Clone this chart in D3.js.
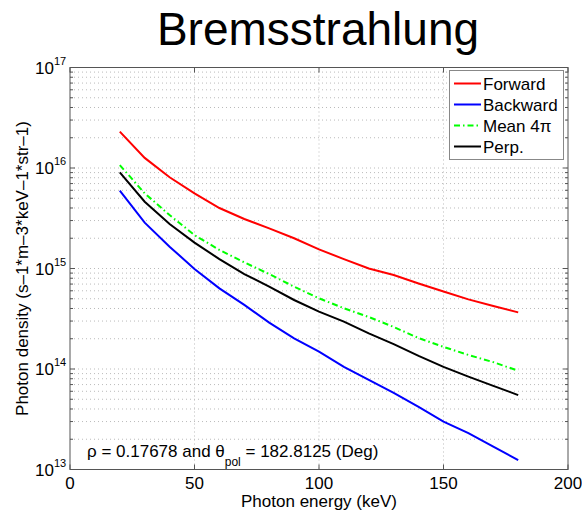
<!DOCTYPE html>
<style>
body { margin: 0; background: #fff; }
svg { font-family: "Liberation Sans", Arial, Helvetica, sans-serif; }
.grid line { stroke: #bbb; stroke-dasharray: 1,3; stroke-width: 1; }
</style>
<svg width="582" height="511"></svg>
<script src="https://d3js.org/d3.v7.min.js"></script>
<script>

// photon energies (keV), one sample every 10 keV
var energy = [20, 30, 40, 50, 60, 70, 80, 90, 100, 110, 120, 130, 140, 150, 160, 170, 180];

// photon density
var forward  = [2.30e16, 1.26e16, 8.08e15, 5.60e15, 4.00e15, 3.11e15, 2.51e15, 2.00e15, 1.55e15,
                1.24e15, 1.00e15, 8.6e14, 7.1e14, 5.9e14, 4.93e14, 4.24e14, 3.66e14];
var backward = [5.94e15, 2.86e15, 1.65e15, 9.9e14, 6.35e14, 4.34e14, 2.89e14, 2.02e14, 1.49e14,
                1.05e14, 7.8e13, 5.8e13, 4.2e13, 3.0e13, 2.3e13, 1.69e13, 1.24e13];
var mean4pi  = [1.07e16, 5.60e15, 3.40e15, 2.15e15, 1.53e15, 1.15e15, 8.8e14, 6.6e14, 5.05e14,
                4.02e14, 3.29e14, 2.62e14, 2.03e14, 1.66e14, 1.38e14, 1.17e14, 9.6e13];
var perp     = [9.06e15, 4.62e15, 2.77e15, 1.81e15, 1.24e15, 8.8e14, 6.6e14, 4.86e14, 3.72e14,
                2.96e14, 2.26e14, 1.77e14, 1.35e14, 1.05e14, 8.4e13, 6.8e13, 5.5e13];

var seriesNames = ["Forward", "Backward", "Mean 4\u03c0", "Perp."];
var xTicks = [0, 50, 100, 150, 200];
var yExponents = [13, 14, 15, 16, 17];

// note: "top" is taken by window.top, so use px* names
var svg = d3.select("svg"),
    pxL = 70, pxR = 568, pxT = 67.5, pxB = 469.5;

var x = d3.scaleLinear().domain([0, 200]).range([pxL, pxR]);
var y = d3.scaleLog().domain([1e13, 1e17]).range([pxB, pxT]);

// title
svg.append("text")
    .attr("x", 318).attr("y", 45)
    .attr("text-anchor", "middle")
    .attr("font-size", 46)
    .text("Bremsstrahlung");

// grid: x majors, y majors + minors
var allY = y.ticks();
var grid = svg.append("g").attr("class", "grid");
grid.selectAll(".gx").data(xTicks.slice(1, -1)).enter().append("line")
    .attr("x1", x).attr("x2", x).attr("y1", pxT).attr("y2", pxB);
grid.selectAll(".gy").data(allY.filter(function(d) { return d > 1e13 && d < 1e17; })).enter().append("line")
    .attr("x1", pxL).attr("x2", pxR)
    .attr("y1", function(d) { return y(d); }).attr("y2", function(d) { return y(d); });

// curves
var line = d3.line()
    .x(function(d, i) { return x(energy[i]); })
    .y(function(d) { return y(d); });

var styles = [
  {data: forward, color: "#ff0000", dash: null},
  {data: backward, color: "#0000ff", dash: null},
  {data: mean4pi, color: "#00ff00", dash: "6,3,1.5,3"},
  {data: perp, color: "#000000", dash: null}
];

svg.append("g").selectAll("path").data(styles).enter().append("path")
    .attr("d", function(d) { return line(d.data); })
    .attr("fill", "none")
    .attr("stroke", function(d) { return d.color; })
    .attr("stroke-width", 2)
    .attr("stroke-dasharray", function(d) { return d.dash; });

// frame and ticks
var axisColor = "#555";
svg.append("rect")
    .attr("x", pxL).attr("y", pxT)
    .attr("width", pxR - pxL).attr("height", pxB - pxT)
    .attr("fill", "none").attr("stroke", axisColor).attr("stroke-width", 1);

var ticks = svg.append("g").attr("stroke", axisColor).attr("stroke-width", 1);
xTicks.forEach(function(t) {
  ticks.append("line").attr("x1", x(t)).attr("x2", x(t)).attr("y1", pxB).attr("y2", pxB - 5);
  ticks.append("line").attr("x1", x(t)).attr("x2", x(t)).attr("y1", pxT).attr("y2", pxT + 5);
});
allY.forEach(function(t) {
  var major = Math.abs(Math.log10(t) - Math.round(Math.log10(t))) < 1e-9;
  var len = major ? 5 : 3;
  ticks.append("line").attr("x1", pxL).attr("x2", pxL + len).attr("y1", y(t)).attr("y2", y(t));
  ticks.append("line").attr("x1", pxR).attr("x2", pxR - len).attr("y1", y(t)).attr("y2", y(t));
});

// x tick labels
svg.append("g").selectAll("text").data(xTicks).enter().append("text")
    .attr("x", x).attr("y", 489)
    .attr("text-anchor", "middle")
    .attr("font-size", 17)
    .text(function(d) { return d; });

// y tick labels: 10^n
var yl = svg.append("g").selectAll("text").data(yExponents).enter().append("text")
    .attr("y", function(d) { return y(Math.pow(10, d)) + 6; })
    .attr("font-size", 17);
yl.append("tspan").attr("x", 35).text("10");
yl.append("tspan").attr("dy", -9).attr("font-size", 11).text(function(d) { return d; });

// axis titles
svg.append("text")
    .attr("x", (pxL + pxR) / 2).attr("y", 507)
    .attr("text-anchor", "middle")
    .attr("font-size", 17)
    .text("Photon energy (keV)");

svg.append("text")
    .attr("transform", "translate(28," + (pxT + pxB) / 2 + ") rotate(-90)")
    .attr("text-anchor", "middle")
    .attr("font-size", 17)
    .text("Photon density (s\u20131*m\u20133*keV\u20131*str\u20131)");

// annotation
var ann = svg.append("text").attr("x", 87).attr("y", 457).attr("font-size", 17);
ann.append("tspan").text("\u03c1 = 0.17678 and \u03b8");
ann.append("tspan").attr("dy", 9).attr("font-size", 12).text("pol");
ann.append("tspan").attr("dy", -9).text(" = 182.8125 (Deg)");

// legend
var legend = svg.append("g");
legend.append("rect")
    .attr("x", 449.5).attr("y", 70.5).attr("width", 114).attr("height", 89)
    .attr("fill", "#fff").attr("stroke", "#888");
var rows = legend.selectAll("g").data(styles).enter().append("g")
    .attr("transform", function(d, i) { return "translate(0," + (83.5 + i * 21) + ")"; });
rows.append("line")
    .attr("x1", 454).attr("x2", 481)
    .attr("stroke", function(d) { return d.color; })
    .attr("stroke-width", 2)
    .attr("stroke-dasharray", function(d) { return d.dash; });
rows.append("text")
    .attr("x", 483).attr("y", 6)
    .attr("font-size", 17)
    .text(function(d, i) { return seriesNames[i]; });

</script>
